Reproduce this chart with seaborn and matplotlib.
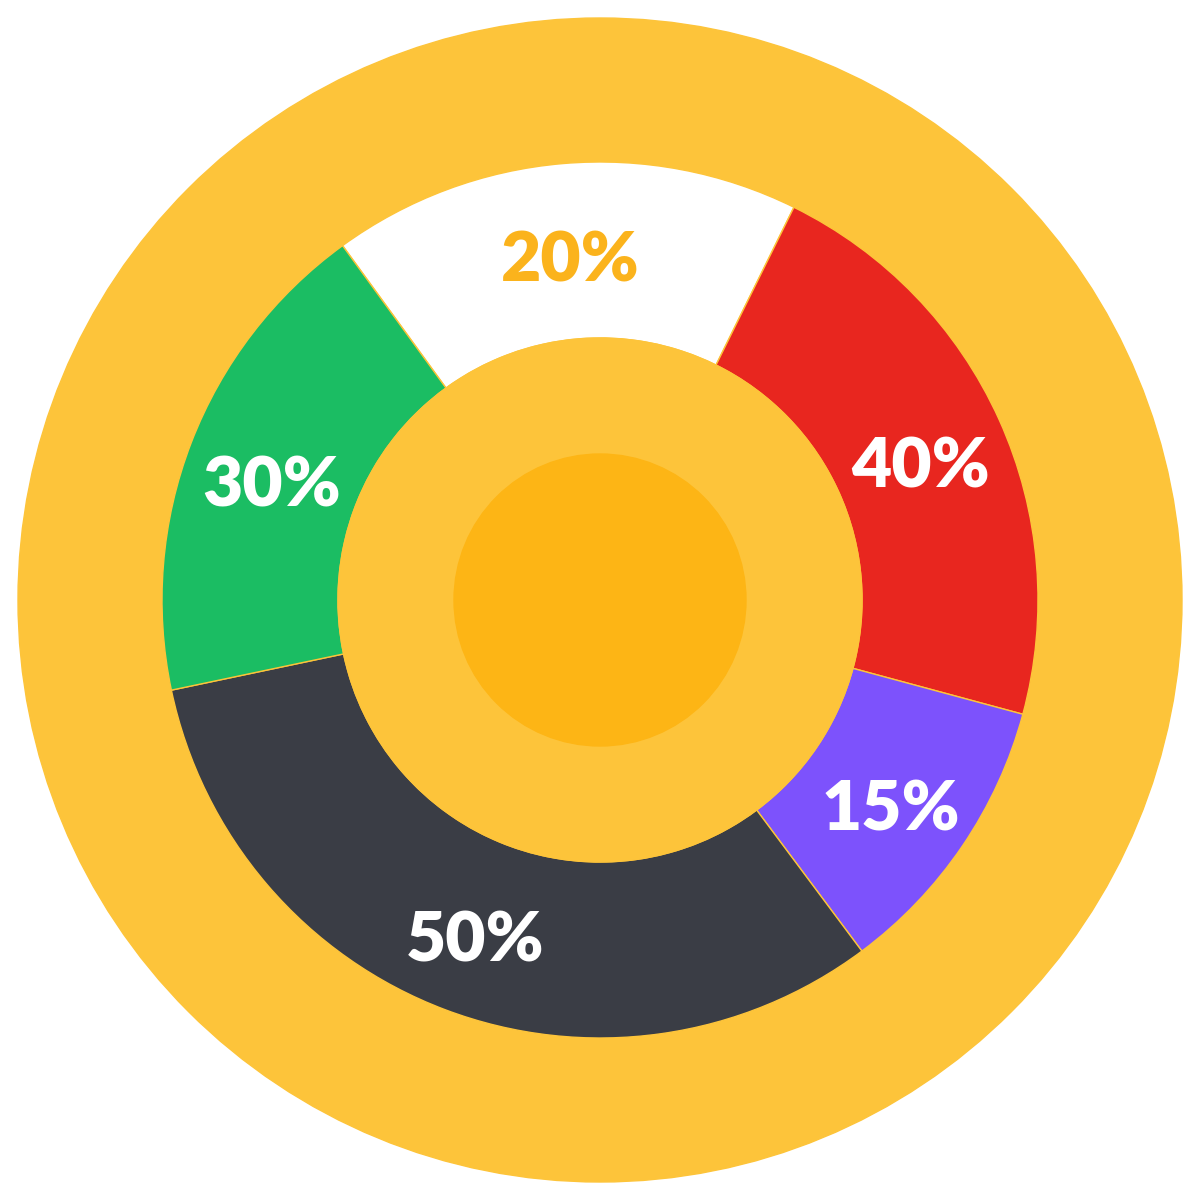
import numpy as np
import matplotlib.pyplot as plt
import seaborn as sns

# Valores (ángulo de cada sector, en % del anillo)
labels = ["20%", "40%", "15%", "50%", "30%"]
shares = [17.3, 21.9, 10.6, 31.9, 18.3]
colors = ["#FFFFFF", "#E8261F", "#7D52FC", "#3A3D45", "#1BBD63"]
text_colors = ["#FBB31C", "white", "white", "white", "white"]

sns.set_theme(style="white")
plt.rcParams['font.family'] = ['Lato', 'DejaVu Sans']

fig = plt.figure(figsize=(12, 12), dpi=100)
ax = fig.add_axes([0, 0, 1, 1])

# Círculo exterior amarillo
ax.add_patch(plt.Circle((0, 0), 582, color="#FDC43A", zorder=0))

# Anillo de sectores
wedges, _ = ax.pie(
    shares,
    colors=colors,
    radius=438,
    startangle=126,
    counterclock=False,
    wedgeprops=dict(width=176, edgecolor="#FDC43A", linewidth=1),
)

# Centro
ax.add_patch(plt.Circle((0, 0), 262, color="#FDC43A", zorder=3))
ax.add_patch(plt.Circle((0, 0), 146, color="#FDB515", zorder=4))

# Etiquetas de porcentaje
for w, lab, tc in zip(wedges, labels, text_colors):
    ang = np.deg2rad((w.theta1 + w.theta2) / 2)
    r = 352
    ax.text(r * np.cos(ang), r * np.sin(ang) - 13, lab, color=tc,
            ha="center", va="center", fontsize=50, fontweight="heavy", zorder=5)

ax.set_xlim(-600, 600)
ax.set_ylim(-600, 600)
ax.set_aspect("equal")
ax.axis("off")
fig.savefig("out.png", dpi=100, facecolor="white")
